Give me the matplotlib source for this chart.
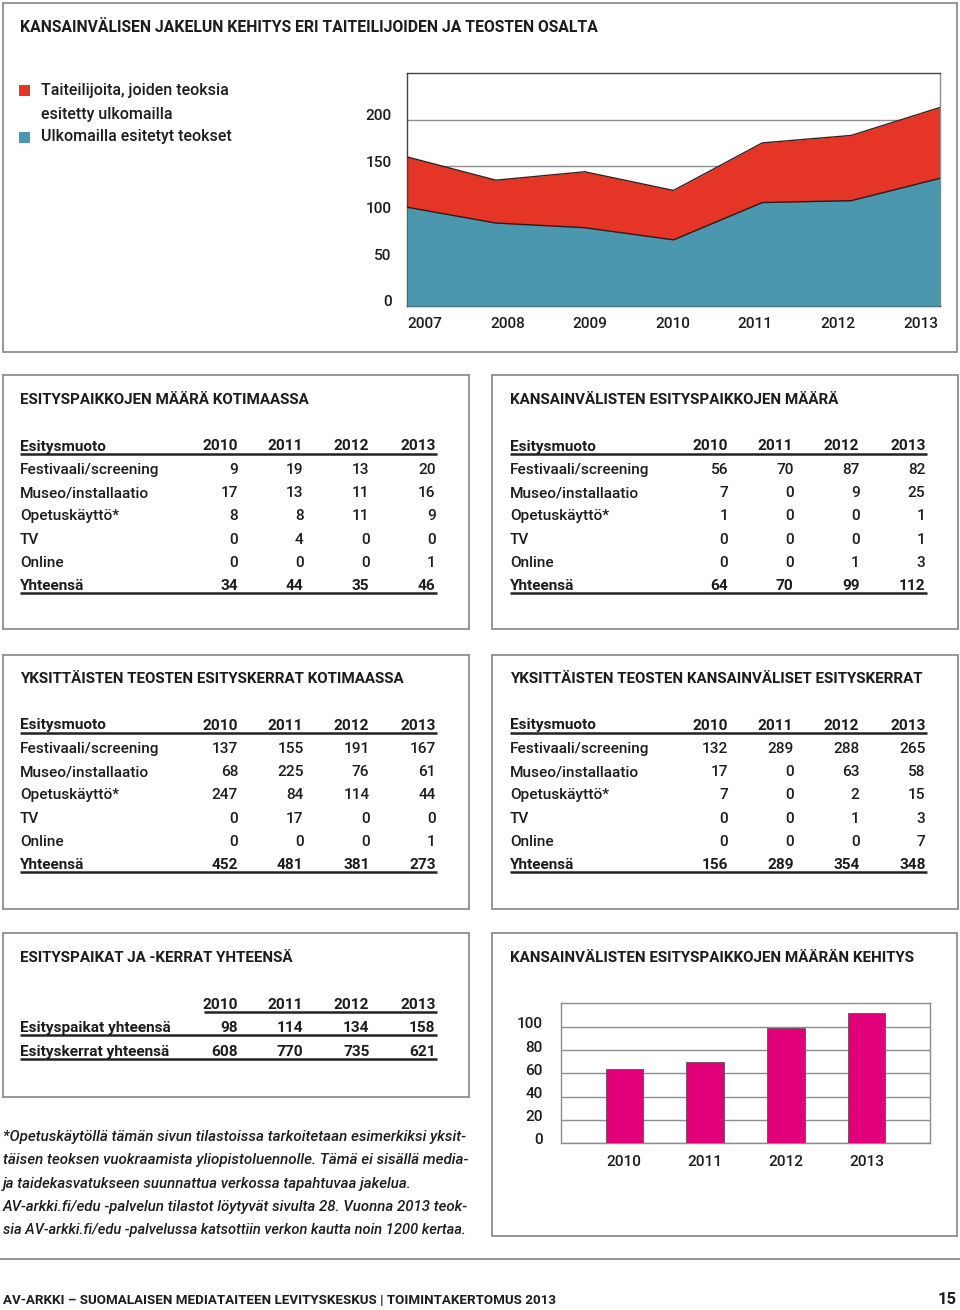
import matplotlib
matplotlib.use("Agg")
import matplotlib.pyplot as plt
from matplotlib.patches import Rectangle
from matplotlib.transforms import ScaledTranslation
import numpy as np

# ---------------- data ----------------
area_years = [2007, 2008, 2009, 2010, 2011, 2012, 2013]
artists_abroad = [160, 135, 144, 124, 175, 183, 213]
works_abroad = [106, 89, 84, 71, 111, 113, 137]
area_yticks = [0, 50, 100, 150, 200]

table_years = ["2010", "2011", "2012", "2013"]
row_labels = ["Festivaali/screening", "Museo/installaatio", "Opetuskäyttö*", "TV", "Online"]

dom_places = [[9, 19, 13, 20], [17, 13, 11, 16], [8, 8, 11, 9], [0, 4, 0, 0], [0, 0, 0, 1]]
dom_places_total = [34, 44, 35, 46]
intl_places = [[56, 70, 87, 82], [7, 0, 9, 25], [1, 0, 0, 1], [0, 0, 0, 1], [0, 0, 1, 3]]
intl_places_total = [64, 70, 99, 112]
dom_screen = [[137, 155, 191, 167], [68, 225, 76, 61], [247, 84, 114, 44], [0, 17, 0, 0], [0, 0, 0, 1]]
dom_screen_total = [452, 481, 381, 273]
intl_screen = [[132, 289, 288, 265], [17, 0, 63, 58], [7, 0, 2, 15], [0, 0, 1, 3], [0, 0, 0, 7]]
intl_screen_total = [156, 289, 354, 348]

sum_labels = ["Esityspaikat yhteensä", "Esityskerrat yhteensä"]
sum_places = [98, 114, 134, 158]
sum_screen = [608, 770, 735, 621]

bar_years = ["2010", "2011", "2012", "2013"]
bar_values = [64, 70, 99, 112]
bar_yticks = [0, 20, 40, 60, 80, 100]

# ---------------- style ----------------
FONT = "Roboto"
TXT = "#1c1c1c"
RED = "#E43526"
TEAL = "#4A97AE"
MAGENTA = "#E2007A"
BOX = "#8e8e8e"

W, H = 960, 1310
fig = plt.figure(figsize=(W / 100, H / 100), dpi=100)
fig.patch.set_facecolor("white")
page = fig.add_axes([0, 0, 1, 1])
page.set_xlim(0, W)
page.set_ylim(H, 0)
page.axis("off")
renderer = fig.canvas.get_renderer()


def txt(x, y, s, size=10, weight=500, ha="left", va="center", style="normal", color=TXT):
    return page.text(x, y, s, fontsize=size, fontweight=weight, ha=ha, va=va,
                     fontstyle=style, color=color, family=FONT)


def fit(t, width):
    w = t.get_window_extent(renderer).width
    t.set_fontsize(t.get_fontsize() * width / w)
    return t.get_fontsize()


def hline(x0, x1, y, lw=1.6, color="#222222"):
    page.plot([x0, x1], [y, y], color=color, lw=lw, solid_capstyle="butt")


def box(x0, y0, x1, y1):
    page.add_patch(Rectangle((x0, y0), x1 - x0, y1 - y0, fill=False, ec=BOX, lw=1.3))


# measure body size from a reference label width
probe = txt(20, 470, "Festivaali/screening", 10)
BODY = fit(probe, 139)
probe.remove()

# boxes
box(3, 3, 957, 352)
box(3, 375, 469, 629)
box(492, 375, 958, 629)
box(3, 655, 469, 909)
box(492, 655, 958, 909)
box(3, 933, 469, 1097)
box(492, 933, 957, 1236)

# top title
t = txt(20, 28, "KANSAINVÄLISEN JAKELUN KEHITYS ERI TAITEILIJOIDEN JA TEOSTEN OSALTA", 10, "bold")
fit(t, 577)

# legend
page.add_patch(Rectangle((19, 85), 11, 11, color=RED, lw=0))
page.add_patch(Rectangle((19, 132), 11, 11, color=TEAL, lw=0))
lg = txt(41, 91, "Taiteilijoita, joiden teoksia", 10.3)
LEG = fit(lg, 187)
txt(41, 114, "esitetty ulkomailla", LEG)
txt(41, 137, "Ulkomailla esitetyt teokset", LEG)

# ---------------- area chart ----------------
L, R, T, B = 407, 940, 73, 306
ax = fig.add_axes([L / W, 1 - B / H, (R - L) / W, (B - T) / H])
ax.set_xlim(2007, 2013)
ax.set_ylim(0, 250)
ax.fill_between(area_years, 0, artists_abroad, color=RED, lw=0, zorder=2)
ax.plot(area_years, artists_abroad, color="#3b1f1c", lw=1.0, zorder=4)
ax.fill_between(area_years, 0, works_abroad, color=TEAL, lw=0, zorder=3)
ax.plot(area_years, works_abroad, color="#2a1d1d", lw=1.0, zorder=4)
ax.set_yticks(area_yticks)
ax.yaxis.grid(True, color="#8c8c8c", lw=1.0)
ax.set_axisbelow(True)
ax.tick_params(length=0, labelsize=BODY, pad=11, colors=TXT)
label_pos = np.linspace(2007.2, 2012.78, len(area_years))
ax.set_xticks(label_pos)
ax.set_xticklabels([str(y) for y in area_years])
ax.tick_params(axis="x", pad=8)
for lbl in ax.get_yticklabels() + ax.get_xticklabels():
    lbl.set_family(FONT)
    lbl.set_fontweight(500)
for lbl in ax.get_yticklabels():
    lbl.set_transform(lbl.get_transform() + ScaledTranslation(0, 0.05, fig.dpi_scale_trans))
for side, sp in ax.spines.items():
    sp.set_color("#444444" if side in ("top", "bottom", "left") else "#8c8c8c")
    sp.set_linewidth(1.0)

# ---------------- tables ----------------
tt = txt(20, 400, "ESITYSPAIKKOJEN MÄÄRÄ KOTIMAASSA", 10, "bold")
box_title_size = fit(tt, 288)
tt.remove()

col_off = [218, 283.5, 349.5, 415.5]


def table(x0, y0, title, data, totals):
    txt(x0, y0, title, box_title_size, "bold")
    hy = y0 + 46.5
    txt(x0, hy, "Esitysmuoto", BODY, "bold")
    for c, yr in enumerate(table_years):
        txt(x0 + col_off[c], hy, yr, BODY, "bold", ha="right")
    hline(x0, x0 + 417, hy + 7, lw=1.8)
    for r, lab in enumerate(row_labels):
        ry = hy + 23.3 * (r + 1)
        txt(x0, ry, lab, BODY)
        for c in range(4):
            txt(x0 + col_off[c], ry, str(data[r][c]), BODY, ha="right")
    ty = hy + 23.3 * 6
    txt(x0, ty, "Yhteensä", BODY, "bold")
    for c in range(4):
        txt(x0 + col_off[c], ty, str(totals[c]), BODY, "bold", ha="right")
    hline(x0, x0 + 417, ty + 7, lw=1.8)


table(20, 400, "ESITYSPAIKKOJEN MÄÄRÄ KOTIMAASSA", dom_places, dom_places_total)
table(510, 400, "KANSAINVÄLISTEN ESITYSPAIKKOJEN MÄÄRÄ", intl_places, intl_places_total)
table(20, 679, "YKSITTÄISTEN TEOSTEN ESITYSKERRAT KOTIMAASSA", dom_screen, dom_screen_total)
table(510, 679, "YKSITTÄISTEN TEOSTEN KANSAINVÄLISET ESITYSKERRAT", intl_screen, intl_screen_total)

# summary table
txt(20, 958, "ESITYSPAIKAT JA -KERRAT YHTEENSÄ", box_title_size, "bold")
hy = 1005
for c, yr in enumerate(table_years):
    txt(20 + col_off[c], hy, yr, BODY, "bold", ha="right")
hline(204, 437, hy + 7, lw=1.8)
for r, (lab, vals) in enumerate(zip(sum_labels, [sum_places, sum_screen])):
    ry = hy + 23.3 * (r + 1)
    txt(20, ry, lab, BODY, "bold")
    for c in range(4):
        txt(20 + col_off[c], ry, str(vals[c]), BODY, "bold", ha="right")
    hline(20, 437, ry + 7, lw=1.8)

# bar chart box title
txt(510, 958, "KANSAINVÄLISTEN ESITYSPAIKKOJEN MÄÄRÄN KEHITYS", box_title_size, "bold")

# ---------------- bar chart ----------------
L, R, T, B = 561, 930, 1003, 1143
bx = fig.add_axes([L / W, 1 - B / H, (R - L) / W, (B - T) / H])
xpos = np.arange(len(bar_years))
bx.bar(xpos, bar_values, width=0.46, color=MAGENTA, edgecolor="#6a4a5a", lw=0.6, zorder=3)
bx.set_xlim(-0.78, 3.78)
bx.set_ylim(0, 120.5)
bx.set_yticks(bar_yticks)
bx.set_xticks(xpos)
bx.set_xticklabels(bar_years)
bx.yaxis.grid(True, color="#8c8c8c", lw=1.0)
bx.set_axisbelow(True)
bx.tick_params(length=0, labelsize=BODY, colors=TXT)
bx.tick_params(axis="y", pad=13)
bx.tick_params(axis="x", pad=9)
for lbl in bx.get_yticklabels() + bx.get_xticklabels():
    lbl.set_family(FONT)
    lbl.set_fontweight(500)
for lbl in bx.get_yticklabels():
    lbl.set_transform(lbl.get_transform() + ScaledTranslation(0, 0.04, fig.dpi_scale_trans))
for sp in bx.spines.values():
    sp.set_color("#8c8c8c")
    sp.set_linewidth(1.0)

# ---------------- footnote ----------------
foot = [
    "*Opetuskäytöllä tämän sivun tilastoissa tarkoitetaan esimerkiksi yksit-",
    "täisen teoksen vuokraamista yliopistoluennolle. Tämä ei sisällä media-",
    "ja taidekasvatukseen suunnattua verkossa tapahtuvaa jakelua.",
    "AV-arkki.fi/edu -palvelun tilastot löytyvät sivulta 28. Vuonna 2013 teok-",
    "sia AV-arkki.fi/edu -palvelussa katsottiin verkon kautta noin 1200 kertaa.",
]
sizes = []
for i, line in enumerate(foot):
    ft = txt(3, 1137 + 23.3 * i, line, 10, style="italic")
    if i != 2:
        sizes.append(fit(ft, 464))
    else:
        third = ft
third.set_fontsize(float(np.mean(sizes)))

# separator and footer
hline(0, 960, 1259, lw=1.3, color="#8c8c8c")
fo = txt(3, 1300, "AV-ARKKI – SUOMALAISEN MEDIATAITEEN LEVITYSKESKUS | TOIMINTAKERTOMUS 2013", 9, "bold")
fit(fo, 547)
txt(957, 1299, "15", 12, "bold", ha="right")

fig.savefig("out.png", dpi=100, facecolor="white")
